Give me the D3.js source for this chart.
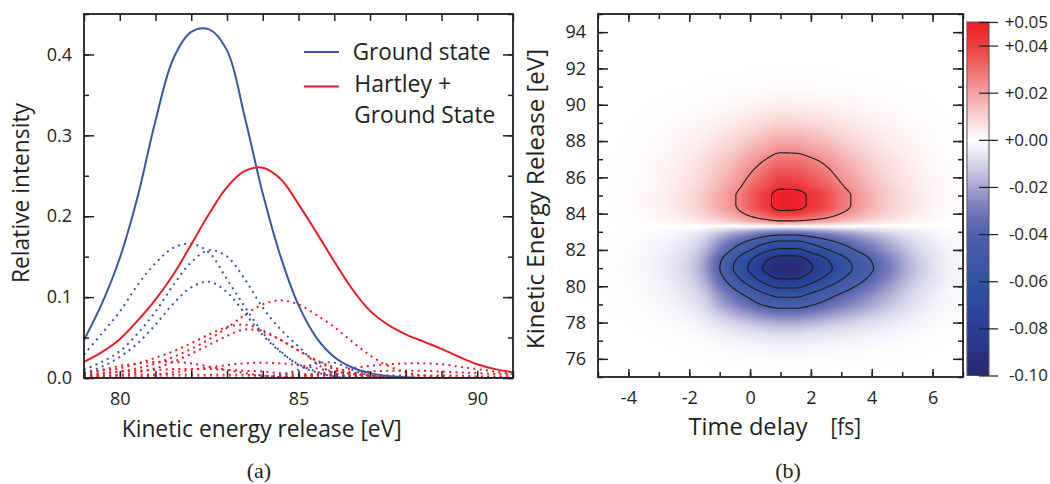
<!DOCTYPE html>
<html><head><meta charset="utf-8">
<script src="https://cdn.jsdelivr.net/npm/d3@7/dist/d3.min.js"></script>
<style>
html,body{margin:0;padding:0;background:#fff;}
svg{display:block;}
</style></head><body>
<svg id="chart" width="1050" height="484"></svg>
<script>
// ================= DATA: panel (a) =================
const kineticEnergy = [79,79.5,80,80.5,81,81.5,82,82.5,83,83.5,84,84.5,85,85.5,86,86.5,87,87.5,88,88.5,89,89.5,90,90.5,91];
const groundState   = [0.047,0.092,0.148,0.224,0.318,0.395,0.428,0.431,0.405,0.322,0.228,0.150,0.090,0.050,0.026,0.013,0.006,0.0025,0.001,0,0,0,0,0,0];
const hartleyGround = [0.020,0.032,0.048,0.071,0.097,0.128,0.165,0.203,0.236,0.256,0.260,0.246,0.215,0.180,0.144,0.110,0.083,0.066,0.054,0.045,0.036,0.026,0.017,0.011,0.007];
const groundComp1 = [0.029,0.055,0.082,0.115,0.142,0.161,0.166,0.155,0.122,0.088,0.056,0.033,0.016,0.007,0.002,0,0,0,0,0,0,0,0,0,0];
const groundComp2 = [0.010,0.020,0.033,0.055,0.082,0.115,0.143,0.158,0.150,0.122,0.087,0.060,0.039,0.018,0.006,0.002,0,0,0,0,0,0,0,0,0];
const groundComp3 = [0.006,0.014,0.026,0.043,0.066,0.092,0.112,0.119,0.106,0.080,0.053,0.032,0.017,0.008,0.003,0,0,0,0,0,0,0,0,0,0];
const groundComp4 = [0,0,0,0,0,0,0,0,0,0,0.001,0.004,0.010,0.018,0.019,0.010,0.003,0.001,0,0,0,0,0,0,0];
const hartleyComp1 = [0.003,0.005,0.008,0.012,0.018,0.026,0.036,0.048,0.062,0.078,0.091,0.096,0.091,0.078,0.063,0.045,0.028,0.015,0.007,0.003,0.001,0,0,0,0];
const hartleyComp2 = [0.006,0.009,0.012,0.018,0.025,0.033,0.043,0.054,0.063,0.066,0.059,0.047,0.034,0.022,0.013,0.007,0.003,0.001,0,0,0,0,0,0,0];
const hartleyComp3 = [0.001,0.002,0.004,0.007,0.012,0.020,0.030,0.041,0.052,0.060,0.057,0.047,0.034,0.021,0.011,0.005,0.002,0,0,0,0,0,0,0,0];
const hartleyComp4 = [0.006,0.010,0.015,0.018,0.020,0.020,0.018,0.014,0.010,0.006,0.003,0.001,0,0,0,0,0,0,0,0,0,0,0,0,0];
const hartleyComp5 = [0,0,0,0.001,0.004,0.007,0.010,0.013,0.016,0.018,0.019,0.018,0.016,0.012,0.008,0.005,0.003,0.001,0,0,0,0,0,0,0];
const hartleyComp6 = [0,0,0,0,0,0,0,0,0,0,0,0.001,0.003,0.005,0.008,0.012,0.015,0.017,0.018,0.018,0.017,0.014,0.011,0.008,0.005];
const hartleyComp7 = [0.004,0.006,0.008,0.009,0.010,0.011,0.011,0.011,0.010,0.009,0.008,0.006,0.005,0.004,0.003,0.002,0.001,0,0,0,0,0,0,0,0];
const hartleyComp8 = [0,0,0,0,0,0,0,0,0,0,0,0.001,0.002,0.003,0.005,0.006,0.008,0.009,0.009,0.009,0.008,0.007,0.006,0.005,0.004];
const hartleyComp9 = [0.002,0.003,0.003,0.004,0.004,0.004,0.004,0.004,0.004,0.004,0.003,0.003,0.003,0.003,0.003,0.003,0.003,0.003,0.003,0.003,0.003,0.003,0.002,0.002,0.002];
const hartleyComp10 = [0.0006,0.0006,0.0006,0.0006,0.0006,0.0006,0.0006,0.0006,0.0006,0.0006,0.0006,0.0006,0.0006,0.0006,0.0006,0.0006,0.0006,0.0006,0.0006,0.0006,0.0006,0.0006,0.0006,0.0006,0.0006];
const kerTickLabels = [80,85,90];
const intensityTickLabels = [0,0.1,0.2,0.3,0.4];
const legendLabels = ["Ground state","Hartley +","Ground State"];

// ================= DATA: panel (b) =================
const timeDelay = [-5,-4.5,-4,-3.5,-3,-2.5,-2,-1.5,-1,-0.5,0,0.5,1,1.5,2,2.5,3,3.5,4,4.5,5,5.5,6,6.5,7];
const releaseEnergy = [75,75.5,76,76.5,77,77.5,78,78.5,79,79.5,80,80.5,81,81.5,82,82.5,83,83.5,84,84.5,85,85.5,86,86.5,87,87.5,88,88.5,89,89.5,90,90.5,91,91.5,92,92.5,93,93.5,94,94.5,95];
const positivePeak = 0.050;
const negativePeak = -0.097;
const positiveDelayProfile = [0,0.005,0.015,0.03,0.06,0.1,0.16,0.25,0.37,0.5,0.68,0.84,0.99,0.98,0.88,0.76,0.6,0.46,0.34,0.24,0.16,0.1,0.055,0.025,0.01];
const negativeDelayProfile = [0,0.005,0.01,0.02,0.04,0.07,0.12,0.22,0.41,0.585,0.745,0.9,0.99,0.99,0.89,0.77,0.65,0.535,0.425,0.32,0.22,0.14,0.08,0.04,0.02];
const positiveEnergyProfile = [0,0,0,0,0,0,0,0,0,0,0,0,0,0,0,0,0,0.38,0.82,0.98,0.98,0.87,0.77,0.68,0.59,0.47,0.37,0.28,0.2,0.13,0.08,0.045,0.022,0.01,0.004,0,0,0,0,0,0];
const negativeEnergyProfile = [0,0.003,0.01,0.025,0.055,0.11,0.2,0.33,0.48,0.60,0.76,0.91,1.0,0.94,0.755,0.57,0.30,0,0,0,0,0,0,0,0,0,0,0,0,0,0,0,0,0,0,0,0,0,0,0,0];
const positiveContourLevels = [0.025,0.045];
const negativeContourLevels = [-0.04,-0.055,-0.07,-0.085];
const delayTickLabels = [-4,-2,0,2,4,6];
const energyTickLabels = [76,78,80,82,84,86,88,90,92,94];
const colorbarTicks = [0.05,0.04,0.02,0,-0.02,-0.04,-0.06,-0.08,-0.10];
const colorbarValues = [-0.10,-0.08,-0.06,-0.04,-0.03,-0.02,-0.01,0,0.01,0.02,0.03,0.04,0.05];
const colorbarColors = ["#2a286e","#283e96","#3252a2","#4e5faa","#7378b9","#a5a5d0","#d7d7eb","#ffffff","#f9d2d2","#f4a0a0","#f06e6e","#ed3e40","#ec1c24"];

// ================= STYLE =================
const INK = "#231f20";
const BLUE = "#3a56a5", RED = "#ec1c24";
const FONT = "'Open Sans', 'Noto Sans', sans-serif";
const SERIF = "'Liberation Serif', 'DejaVu Serif', serif";

const svg = d3.select("#chart");
const defs = svg.append("defs");

function styleAxis(g, size){
  g.select(".domain").remove();
  g.selectAll(".tick line").attr("stroke", INK).attr("stroke-width", 1.5);
  g.selectAll(".tick text").attr("font-family", FONT).attr("font-size", size || 18).attr("fill", INK);
}
function fitText(sel, w){
  sel.attr("textLength", w).attr("lengthAdjust", "spacingAndGlyphs");
}

// ================= PANEL (a) =================
const A = {left:84, right:513, top:14, bottom:378};
const xA = d3.scaleLinear().domain([79,91]).range([A.left, A.right]);
const yA = d3.scaleLinear().domain([0,0.45]).range([A.bottom, A.top]);

defs.append("clipPath").attr("id","clipA").append("rect")
  .attr("x",A.left).attr("y",A.top).attr("width",A.right-A.left).attr("height",A.bottom-A.top);

const lineA = d3.line().x((d,i)=>xA(kineticEnergy[i])).y(d=>yA(Math.max(0,d))).curve(d3.curveCatmullRom.alpha(0.5));
const gCurves = svg.append("g").attr("clip-path","url(#clipA)");

const hartleyComponents = [hartleyComp10,hartleyComp9,hartleyComp8,hartleyComp7,hartleyComp6,hartleyComp5,hartleyComp4,hartleyComp3,hartleyComp2,hartleyComp1];
const groundComponents = [groundComp4,groundComp3,groundComp2,groundComp1];

gCurves.selectAll("path.hc").data(hartleyComponents).join("path").attr("class","hc")
  .attr("d", lineA).attr("fill","none").attr("stroke",RED).attr("stroke-width",2)
  .attr("stroke-dasharray","2 4.3");
gCurves.selectAll("path.gc").data(groundComponents).join("path").attr("class","gc")
  .attr("d", lineA).attr("fill","none").attr("stroke",BLUE).attr("stroke-width",2)
  .attr("stroke-dasharray","2 4.3");
gCurves.append("path").datum(groundState).attr("d", lineA).attr("fill","none").attr("stroke",BLUE).attr("stroke-width",2);
gCurves.append("path").datum(hartleyGround).attr("d", lineA).attr("fill","none").attr("stroke",RED).attr("stroke-width",2);

// axes (a)
styleAxis(svg.append("g").attr("transform",`translate(0,${A.bottom})`)
  .call(d3.axisBottom(xA).tickValues(xA.ticks(12)).tickSize(-7).tickFormat("")));
styleAxis(svg.append("g").attr("transform",`translate(0,${A.top})`)
  .call(d3.axisTop(xA).tickValues(xA.ticks(12)).tickSize(-7).tickFormat("")));
styleAxis(svg.append("g").attr("transform",`translate(0,${A.bottom})`)
  .call(d3.axisBottom(xA).tickValues(kerTickLabels).tickSize(0).tickPadding(14).tickFormat(d3.format("d"))));
styleAxis(svg.append("g").attr("transform",`translate(${A.left},0)`)
  .call(d3.axisLeft(yA).tickValues(yA.ticks(9)).tickSize(-5).tickFormat("")));
styleAxis(svg.append("g").attr("transform",`translate(${A.left},0)`)
  .call(d3.axisLeft(yA).tickValues(intensityTickLabels).tickSize(-10).tickPadding(12).tickFormat(d3.format(".1f"))));
styleAxis(svg.append("g").attr("transform",`translate(${A.right},0)`)
  .call(d3.axisRight(yA).tickValues(yA.ticks(9)).tickSize(-5).tickFormat("")));
styleAxis(svg.append("g").attr("transform",`translate(${A.right},0)`)
  .call(d3.axisRight(yA).tickValues(intensityTickLabels).tickSize(-10).tickFormat("")));

svg.append("rect").attr("x",A.left).attr("y",A.top).attr("width",A.right-A.left).attr("height",A.bottom-A.top)
  .attr("fill","none").attr("stroke",INK).attr("stroke-width",1.8);

// legend
svg.append("line").attr("x1",304).attr("x2",339).attr("y1",52).attr("y2",52).attr("stroke",BLUE).attr("stroke-width",2);
svg.append("line").attr("x1",304).attr("x2",339).attr("y1",86.5).attr("y2",86.5).attr("stroke",RED).attr("stroke-width",2);
fitText(svg.append("text").attr("x",352.7).attr("y",60).text(legendLabels[0])
  .attr("font-family",FONT).attr("font-size",24).attr("fill",INK), 138);
fitText(svg.append("text").attr("x",354.3).attr("y",92.3).text(legendLabels[1])
  .attr("font-family",FONT).attr("font-size",24).attr("fill",INK), 97);
fitText(svg.append("text").attr("x",354.3).attr("y",123.3).text(legendLabels[2])
  .attr("font-family",FONT).attr("font-size",24).attr("fill",INK), 141);

// titles (a)
fitText(svg.append("text").attr("x",121.7).attr("y",436.5).text("Kinetic energy release [eV]")
  .attr("font-family",FONT).attr("font-size",24).attr("fill",INK), 280);
fitText(svg.append("text").attr("transform","translate(28.5,193) rotate(-90)").attr("text-anchor","middle")
  .text("Relative intensity").attr("font-family",FONT).attr("font-size",24).attr("fill",INK), 180);
svg.append("text").attr("x",259).attr("y",478).attr("text-anchor","middle").text("(a)")
  .attr("font-family",SERIF).attr("font-size",22).attr("fill",INK);

// ================= PANEL (b) =================
const B = {left:598, right:963, top:14, bottom:377};
const xB = d3.scaleLinear().domain([-5,7]).range([B.left, B.right]);
const yB = d3.scaleLinear().domain([75,95]).range([B.bottom, B.top]);
const W = B.right - B.left, H = B.bottom - B.top;

// cell table built from the profiles
const heatTable = releaseEnergy.map((e,j)=> timeDelay.map((t,i)=>
  positivePeak*positiveDelayProfile[i]*positiveEnergyProfile[j] +
  negativePeak*negativeDelayProfile[i]*negativeEnergyProfile[j]));

function monotoneSampler(xs, ys){
  const n = xs.length, h = xs[1]-xs[0];
  const s = new Float64Array(n-1), m = new Float64Array(n);
  for(let i=0;i<n-1;i++) s[i] = (ys[i+1]-ys[i])/h;
  m[0] = s[0]; m[n-1] = s[n-2];
  for(let i=1;i<n-1;i++){
    const a=s[i-1], b=s[i];
    if(a*b<=0) m[i]=0;
    else { const p=(a+b)/2; m[i]=Math.sign(a)*Math.min(2*Math.abs(a),2*Math.abs(b),Math.abs(p)); }
  }
  return x=>{
    const u=(x-xs[0])/h; let i=Math.floor(u); if(i<0) i=0; if(i>n-2) i=n-2;
    let t=u-i; t=Math.max(0,Math.min(1,t));
    const t2=t*t, t3=t2*t;
    return (2*t3-3*t2+1)*ys[i] + (t3-2*t2+t)*h*m[i] + (-2*t3+3*t2)*ys[i+1] + (t3-t2)*h*m[i+1];
  };
}

const rowEnergies = d3.range(H).map(py => yB.invert(B.top + py + 0.5));
const colDelays = d3.range(W).map(px => xB.invert(B.left + px + 0.5));
const colSamples = timeDelay.map((t,i)=>{
  const f = monotoneSampler(releaseEnergy, heatTable.map(r=>r[i]));
  return rowEnergies.map(f);
});
const values = new Float64Array(W*H);
for(let py=0; py<H; py++){
  const f = monotoneSampler(timeDelay, colSamples.map(c=>c[py]));
  for(let px=0; px<W; px++) values[py*W+px] = f(colDelays[px]);
}

const colorScale = d3.scaleLinear().domain(colorbarValues).range(colorbarColors)
  .interpolate(d3.interpolateRgb).clamp(true);
const lut = d3.range(0,1501).map(k=>d3.rgb(colorScale(-0.10 + k*0.0001)));
const canvas = document.createElement("canvas");
canvas.width = W; canvas.height = H;
const ctx = canvas.getContext("2d");
const img = ctx.createImageData(W,H);
for(let k=0;k<W*H;k++){
  let idx = Math.round((values[k]+0.10)/0.0001); idx = Math.max(0, Math.min(1500, idx));
  const c = lut[idx];
  img.data[4*k]=c.r; img.data[4*k+1]=c.g; img.data[4*k+2]=c.b; img.data[4*k+3]=255;
}
ctx.putImageData(img,0,0);
svg.append("image").attr("x",B.left).attr("y",B.top).attr("width",W).attr("height",H)
  .attr("preserveAspectRatio","none").attr("href", canvas.toDataURL());

// contours
const gCont = svg.append("g").attr("transform",`translate(${B.left},${B.top})`);
const posCont = d3.contours().size([W,H]).thresholds(positiveContourLevels)(values);
const negVals = Array.from(values, v=>-v);
const negCont = d3.contours().size([W,H]).thresholds(negativeContourLevels.map(v=>-v))(negVals);
gCont.selectAll("path.c").data(posCont.concat(negCont)).join("path").attr("class","c")
  .attr("d", d3.geoPath()).attr("fill","none").attr("stroke","#1c1c1c").attr("stroke-width",1.1);

// axes (b)
styleAxis(svg.append("g").attr("transform",`translate(0,${B.bottom})`)
  .call(d3.axisBottom(xB).tickValues(xB.ticks(12)).tickSize(-5).tickFormat("")));
styleAxis(svg.append("g").attr("transform",`translate(0,${B.bottom})`)
  .call(d3.axisBottom(xB).tickValues(delayTickLabels).tickSize(-8).tickPadding(14).tickFormat(d=>String(d))));
styleAxis(svg.append("g").attr("transform",`translate(0,${B.top})`)
  .call(d3.axisTop(xB).tickValues(xB.ticks(12)).tickSize(-5).tickFormat("")));
styleAxis(svg.append("g").attr("transform",`translate(0,${B.top})`)
  .call(d3.axisTop(xB).tickValues(delayTickLabels).tickSize(-8).tickFormat("")));
styleAxis(svg.append("g").attr("transform",`translate(${B.left},0)`)
  .call(d3.axisLeft(yB).tickValues(yB.ticks(20)).tickSize(-5).tickFormat("")));
styleAxis(svg.append("g").attr("transform",`translate(${B.left},0)`)
  .call(d3.axisLeft(yB).tickValues(energyTickLabels).tickSize(-10).tickPadding(12).tickFormat(d=>String(d))));
styleAxis(svg.append("g").attr("transform",`translate(${B.right},0)`)
  .call(d3.axisRight(yB).tickValues(yB.ticks(20)).tickSize(-5).tickFormat("")));
styleAxis(svg.append("g").attr("transform",`translate(${B.right},0)`)
  .call(d3.axisRight(yB).tickValues(energyTickLabels).tickSize(-10).tickFormat("")));

svg.append("rect").attr("x",B.left).attr("y",B.top).attr("width",W).attr("height",H)
  .attr("fill","none").attr("stroke",INK).attr("stroke-width",1.8);

// titles (b)
fitText(svg.append("text").attr("x",688.6).attr("y",435).text("Time delay")
  .attr("font-family",FONT).attr("font-size",24).attr("fill",INK), 119);
fitText(svg.append("text").attr("x",830.5).attr("y",435).text("[fs]")
  .attr("font-family",FONT).attr("font-size",24).attr("fill",INK), 30.5);
fitText(svg.append("text").attr("transform","translate(544,199) rotate(-90)").attr("text-anchor","middle")
  .text("Kinetic Energy Release [eV]").attr("font-family",FONT).attr("font-size",24).attr("fill",INK), 300);
svg.append("text").attr("x",788).attr("y",478).attr("text-anchor","middle").text("(b)")
  .attr("font-family",SERIF).attr("font-size",22).attr("fill",INK);

// colorbar
const CB = {x:967, width:22, top:22, bottom:375.5};
const cbScale = d3.scaleLinear().domain([-0.10,0.05]).range([CB.bottom, CB.top]);
const grad = defs.append("linearGradient").attr("id","cbGrad")
  .attr("x1",0).attr("y1",0).attr("x2",0).attr("y2",1);
grad.selectAll("stop").data(colorbarValues.map((v,i)=>({v, c:colorbarColors[i]})).reverse()).join("stop")
  .attr("offset", d=>(cbScale(d.v)-CB.top)/(CB.bottom-CB.top))
  .attr("stop-color", d=>d.c);
svg.append("rect").attr("x",CB.x).attr("y",CB.top).attr("width",CB.width).attr("height",CB.bottom-CB.top)
  .attr("fill","url(#cbGrad)").attr("stroke","#555").attr("stroke-width",1);
const cbAxis = svg.append("g").attr("transform","translate(979,0)")
  .call(d3.axisRight(cbScale).tickValues(colorbarTicks).tickSize(19).tickPadding(2)
    .tickFormat(v => (v>=0 ? "+" : "") + v.toFixed(2)));
styleAxis(cbAxis, 17);
cbAxis.selectAll(".tick line").attr("stroke-width",1.2);
cbAxis.selectAll(".tick text").attr("x",69).attr("text-anchor","end");
</script>
</body></html>
